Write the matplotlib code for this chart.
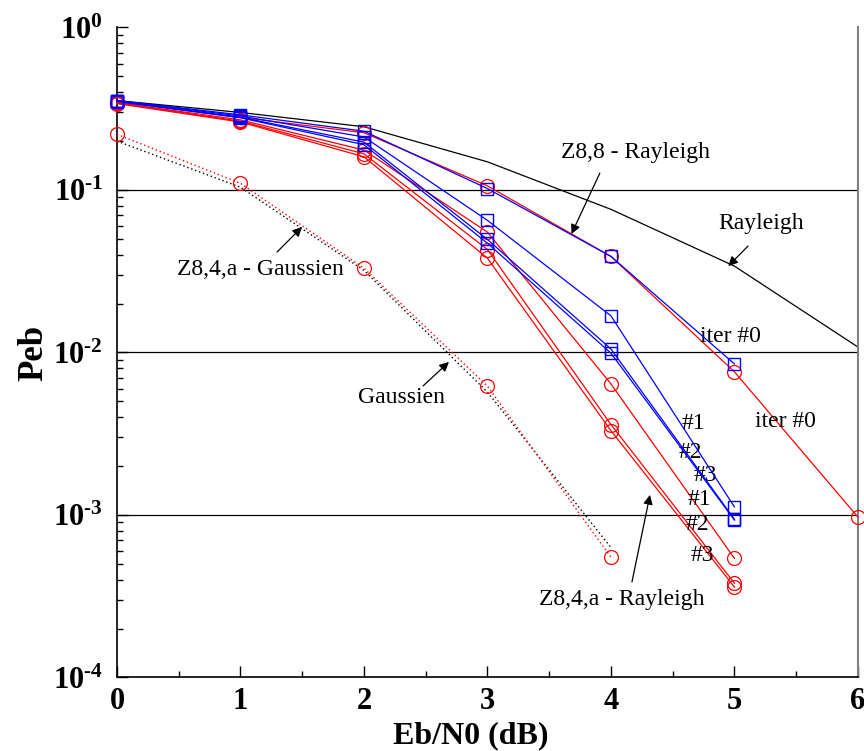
import numpy as np
import matplotlib.pyplot as plt
from matplotlib.ticker import FixedLocator, FuncFormatter

plt.rcParams['font.family'] = ['Liberation Serif', 'DejaVu Serif']
plt.rcParams['mathtext.fontset'] = 'custom'
plt.rcParams['mathtext.rm'] = 'Liberation Serif:bold'
plt.rcParams['mathtext.bf'] = 'Liberation Serif:bold'
plt.rcParams['mathtext.default'] = 'bf'

# Eb/N0 en dB
eb_n0 = [0, 1, 2, 3, 4, 5, 6]
x_gauss = [0, 1, 2, 3, 4]
x_iter = [0, 1, 2, 3, 4, 5]

# courbes de reference
rayleigh = [0.355, 0.30, 0.245, 0.149, 0.076, 0.034, 0.0108]
gauss_ref = [0.20, 0.104, 0.032, 0.0057, 6.3e-4]
gauss_z84a = [0.22, 0.11, 0.033, 0.0062, 5.5e-4]

# decodage iteratif, carres bleus
bleu_iter0 = [0.355, 0.29, 0.23, 0.102, 0.039, 0.0085]
bleu_iter1 = [0.355, 0.285, 0.212, 0.065, 0.0168, 0.00112]
bleu_iter2 = [0.352, 0.28, 0.197, 0.0496, 0.0105, 0.00094]
bleu_iter3 = [0.35, 0.278, 0.19, 0.047, 0.0099, 0.00093]

# decodage iteratif, cercles rouges
rouge_iter0 = [0.35, 0.28, 0.225, 0.106, 0.039, 0.0076, 0.00097]
rouge_iter1 = [0.345, 0.27, 0.176, 0.055, 0.0064, 0.00054]
rouge_iter2 = [0.343, 0.265, 0.167, 0.043, 0.0036, 0.00038]
rouge_iter3 = [0.34, 0.262, 0.16, 0.038, 0.0033, 0.00036]

fig = plt.figure(figsize=(8.64, 7.51), dpi=100)
ax = fig.add_axes([0.1354, 0.0979, 0.8576, 0.8655])
ax.set_yscale('log')
ax.set_xlim(0, 6)
ax.set_ylim(1e-4, 1)

for niv in [1e-1, 1e-2, 1e-3]:
    ax.axhline(niv, color='black', lw=0.9, zorder=1)

ax.plot(eb_n0, rayleigh, color='black', lw=0.9, zorder=2)
ax.plot(x_gauss, gauss_ref, color='black', lw=1.0, ls=(0, (1, 2)), zorder=2)
ax.plot(x_gauss, gauss_z84a, color='red', lw=1.0, ls=(0, (1, 2)),
        marker='o', ms=10, mfc='none', mew=0.9, clip_on=False, zorder=3)

style_bleu = dict(color='blue', lw=0.9, marker='s', ms=8.5, mfc='none',
                  mew=1.0, clip_on=False, zorder=4)
style_rouge = dict(color='red', lw=0.9, marker='o', ms=10, mfc='none',
                   mew=0.9, clip_on=False, zorder=3)

ax.plot(eb_n0, rouge_iter0, **style_rouge)
for y in [rouge_iter1, rouge_iter2, rouge_iter3]:
    ax.plot(x_iter, y, **style_rouge)
for y in [bleu_iter0, bleu_iter1, bleu_iter2, bleu_iter3]:
    ax.plot(x_iter, y, **style_bleu)

# axes et graduations
ax.spines['top'].set_visible(False)
ax.spines['right'].set_color('#808080')
ax.spines['right'].set_linewidth(1.5)
ax.spines['left'].set_linewidth(1.2)
ax.spines['bottom'].set_linewidth(1.2)

ax.xaxis.set_major_locator(FixedLocator(eb_n0))
ax.xaxis.set_minor_locator(FixedLocator(np.arange(0.5, 6, 1.0)))
ax.yaxis.set_major_locator(FixedLocator([1e-4, 1e-3, 1e-2, 1e-1, 1]))
ax.yaxis.set_major_formatter(FuncFormatter(
    lambda v, p: r'$10^{\text{%d}}$' % int(round(np.log10(v)))))
ax.tick_params(which='both', direction='in', right=False, top=False,
               labelsize=22, width=1.0)
ax.tick_params(which='major', length=8)
ax.tick_params(which='minor', length=4)
ax.tick_params(axis='x', pad=7)
ax.tick_params(axis='y', pad=10)
for lab in ax.get_xticklabels():
    lab.set_fontweight('bold')

ax.set_xlabel('Eb/N0 (dB)', fontsize=23, fontweight='bold')
ax.set_ylabel('Peb', fontsize=25, fontweight='bold')
ax.xaxis.set_label_coords(0.478, -0.068)
ax.yaxis.set_label_coords(-0.090, 0.5)

# annotations
fl = dict(arrowstyle='-|>', color='black', lw=0.9, mutation_scale=14,
          shrinkA=0, shrinkB=0)
ax.annotate('', xy=(3.68, 0.0536), xytext=(3.91, 0.127), arrowprops=fl)
ax.annotate('', xy=(4.95, 0.034), xytext=(5.11, 0.0452), arrowprops=fl)
ax.annotate('', xy=(1.498, 0.0592), xytext=(1.296, 0.0415), arrowprops=fl)
ax.annotate('', xy=(2.688, 0.00875), xytext=(2.478, 0.00622), arrowprops=fl)
ax.annotate('', xy=(4.316, 1.33e-3), xytext=(4.17, 3.87e-4), arrowprops=fl)

txt = dict(fontsize=17, ha='center', va='center')
ax.text(4.20, 0.169, 'Z8,8 - Rayleigh', **txt)
ax.text(5.22, 0.0618, 'Rayleigh', **txt)
ax.text(1.158, 0.0322, 'Z8,4,a - Gaussien', **txt)
ax.text(2.30, 0.00532, 'Gaussien', **txt)
ax.text(4.089, 3.04e-4, 'Z8,4,a - Rayleigh', **txt)
ax.text(4.964, 0.01246, 'iter #0', **txt)
ax.text(5.409, 3.74e-3, 'iter #0', **txt)
ax.text(4.664, 3.63e-3, '#1', **txt)
ax.text(4.64, 2.44e-3, '#2', **txt)
ax.text(4.761, 1.76e-3, '#3', **txt)
ax.text(4.72, 1.24e-3, '#1', **txt)
ax.text(4.696, 8.7e-4, '#2', **txt)
ax.text(4.737, 5.6e-4, '#3', **txt)

fig.savefig('out.png', dpi=100)
